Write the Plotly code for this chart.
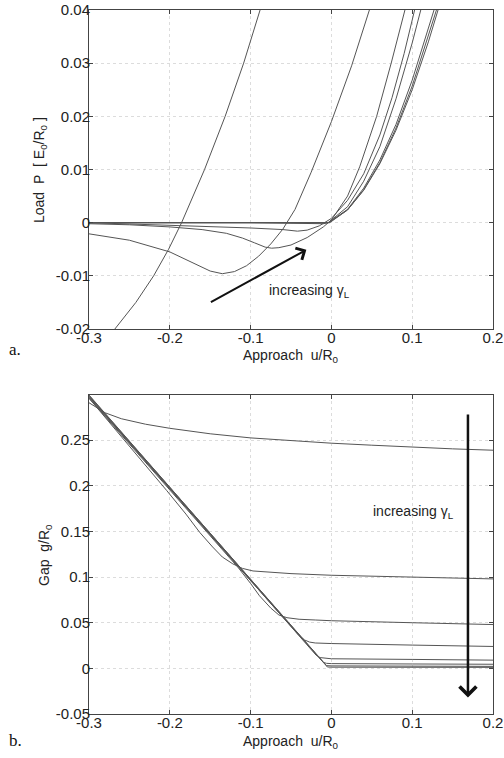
import plotly.graph_objects as go

# ---------------- data ----------------
# x tick values / labels shared by both panels
x_ticks = [-0.3, -0.2, -0.1, 0.0, 0.1, 0.2]
x_ticklabels = ["-0.3", "-0.2", "-0.1", "0", "0.1", "0.2"]

# Panel a: Load P [E0/R0] vs approach u/R0  (curves A..H, increasing gamma_L)
pa_u_A = [-0.29, -0.268, -0.242, -0.22, -0.2015, -0.1854, -0.157, -0.1315, -0.1086, -0.0877, -0.07]
pa_P_A = [-0.0235, -0.02, -0.015, -0.01, -0.005, 0.0, 0.01, 0.02, 0.03, 0.04, 0.049]

pa_u_B = [-0.3, -0.25, -0.2, -0.17, -0.15, -0.135, -0.12, -0.105, -0.09, -0.075, -0.06, -0.045, -0.025, 0.0, 0.025, 0.047, 0.06]
pa_P_B = [-0.0021, -0.0033, -0.0055, -0.0077, -0.0091, -0.0096, -0.0092, -0.0081, -0.0063, -0.004, -0.0012, 0.0025, 0.0095, 0.019, 0.0295, 0.04, 0.046]

pa_u_C = [-0.3, -0.25, -0.2, -0.16, -0.13, -0.11, -0.095, -0.082, -0.074, -0.065, -0.05, -0.03, -0.01, 0.0, 0.02, 0.035, 0.056, 0.074, 0.091, 0.1]
pa_P_C = [-0.0002, -0.0004, -0.0008, -0.0013, -0.002, -0.0029, -0.0038, -0.0046, -0.0048, -0.0047, -0.0042, -0.0028, -0.0008, 0.0005, 0.005, 0.0105, 0.02, 0.03, 0.04, 0.045]

pa_u_D = [-0.3, -0.22, -0.15, -0.1, -0.06, -0.042, -0.03, -0.015, 0.0, 0.02, 0.04, 0.06, 0.075, 0.09, 0.103, 0.11]
pa_P_D = [0.0, -0.0004, -0.0007, -0.001, -0.0013, -0.0016, -0.0014, -0.0006, 0.0008, 0.0042, 0.0092, 0.0165, 0.0235, 0.0318, 0.04, 0.0445]

pa_u_E = [-0.3, -0.1, -0.01, -0.004, 0.02, 0.04, 0.06, 0.08, 0.1, 0.111, 0.12]
pa_P_E = [0.0, 0.0, -0.0002, 0.0, 0.003, 0.0078, 0.0143, 0.0233, 0.0338, 0.04, 0.0455]

pa_u_F = [-0.3, -0.1, -0.008, -0.004, 0.02, 0.04, 0.06, 0.08, 0.1, 0.12, 0.127, 0.14]
pa_P_F = [0.0, 0.0, -0.0001, 0.0, 0.0025, 0.0065, 0.0118, 0.0185, 0.0268, 0.0363, 0.04, 0.047]

pa_u_G = [-0.3, -0.1, -0.006, -0.003, 0.02, 0.04, 0.06, 0.08, 0.1, 0.12, 0.13, 0.14]
pa_P_G = [0.0, 0.0, -0.0001, 0.0, 0.0024, 0.0062, 0.0113, 0.0178, 0.0257, 0.035, 0.04, 0.0452]

pa_u_H = [-0.3, -0.1, -0.005, -0.002, 0.02, 0.04, 0.06, 0.08, 0.1, 0.12, 0.132, 0.14]
pa_P_H = [0.0, 0.0, -0.0001, 0.0, 0.0024, 0.0061, 0.0111, 0.0174, 0.025, 0.034, 0.04, 0.0442]

pa_yticks = [-0.02, -0.01, 0.0, 0.01, 0.02, 0.03, 0.04]
pa_yticklabels = ["-0.02", "-0.01", "0", "0.01", "0.02", "0.03", "0.04"]

# Panel b: Gap g/R0 vs approach u/R0
pb_u_A = [-0.3, -0.29, -0.28, -0.26, -0.23, -0.2, -0.15, -0.1, -0.05, 0.0, 0.05, 0.1, 0.15, 0.2]
pb_g_A = [0.291, 0.285, 0.28, 0.2735, 0.2675, 0.263, 0.257, 0.2525, 0.2495, 0.2467, 0.2445, 0.2423, 0.2405, 0.239]

pb_u_B = [-0.3, -0.25, -0.204, -0.18, -0.163, -0.147, -0.135, -0.122, -0.11, -0.097, -0.075, -0.05, 0.0, 0.1, 0.2]
pb_g_B = [0.296, 0.244, 0.195, 0.169, 0.149, 0.133, 0.122, 0.1145, 0.1095, 0.1067, 0.105, 0.1038, 0.102, 0.1, 0.098]

pb_u_C = [-0.3, -0.2, -0.13, -0.115, -0.1, -0.089, -0.075, -0.065, -0.055, -0.04, -0.02, 0.0, 0.1, 0.2]
pb_g_C = [0.296, 0.196, 0.126, 0.11, 0.093, 0.0795, 0.066, 0.0585, 0.0555, 0.0538, 0.053, 0.0522, 0.05, 0.048]

pb_u_D = [-0.3, -0.1, -0.06, -0.048, -0.04, -0.033, -0.027, -0.02, 0.0, 0.1, 0.2]
pb_g_D = [0.297, 0.096, 0.0555, 0.0435, 0.036, 0.031, 0.0288, 0.0278, 0.0272, 0.0255, 0.024]

pb_u_E = [-0.3, -0.05, -0.025, -0.019, -0.014, -0.008, 0.0, 0.1, 0.2]
pb_g_E = [0.298, 0.0465, 0.021, 0.0145, 0.0118, 0.011, 0.0105, 0.0098, 0.009]

pb_u_F = [-0.3, -0.05, -0.015, -0.01, -0.006, 0.0, 0.1, 0.2]
pb_g_F = [0.298, 0.0465, 0.0105, 0.0065, 0.0055, 0.0052, 0.0048, 0.0045]

pb_u_G = [-0.3, -0.05, -0.01, -0.006, 0.0, 0.1, 0.2]
pb_g_G = [0.299, 0.047, 0.006, 0.003, 0.0027, 0.0024, 0.0022]

pb_u_H = [-0.3, -0.05, -0.008, -0.005, 0.0, 0.1, 0.2]
pb_g_H = [0.2995, 0.0465, 0.0035, 0.0015, 0.0013, 0.0012, 0.0011]

pb_yticks = [-0.05, 0.0, 0.05, 0.1, 0.15, 0.2, 0.25]
pb_yticklabels = ["-0.05", "0", "0.05", "0.1", "0.15", "0.2", "0.25"]

# ---------------- figure ----------------
W, H = 504, 758
LINE = dict(color="#555555", width=1)
SANS = "Liberation Sans, Arial, sans-serif"
SERIF = "Liberation Serif, DejaVu Serif, serif"


def px(xw):   # window x pixel -> paper fraction
    return xw / W


def py(yw):   # window y pixel -> paper fraction
    return 1 - yw / H


fig = go.Figure()
top = [(pa_u_A, pa_P_A), (pa_u_B, pa_P_B), (pa_u_C, pa_P_C), (pa_u_D, pa_P_D),
       (pa_u_E, pa_P_E), (pa_u_F, pa_P_F), (pa_u_G, pa_P_G), (pa_u_H, pa_P_H)]
bot = [(pb_u_A, pb_g_A), (pb_u_B, pb_g_B), (pb_u_C, pb_g_C), (pb_u_D, pb_g_D),
       (pb_u_E, pb_g_E), (pb_u_F, pb_g_F), (pb_u_G, pb_g_G), (pb_u_H, pb_g_H)]
for u, p in top:
    fig.add_trace(go.Scatter(x=u, y=p, mode="lines", line=LINE, xaxis="x", yaxis="y",
                             showlegend=False, hoverinfo="skip"))
for u, g in bot:
    fig.add_trace(go.Scatter(x=u, y=g, mode="lines", line=LINE, xaxis="x2", yaxis="y2",
                             showlegend=False, hoverinfo="skip"))

xdom = [px(89), px(493)]
ydom_top = [py(329), py(10)]
ydom_bot = [py(714), py(395)]

common = dict(showline=True, linecolor="#444444", linewidth=1, mirror="ticks",
              ticks="inside", ticklen=4, tickcolor="#444444", automargin=False,
              ticklabeloverflow="allow",
              showgrid=True, gridcolor="#dcdcdc", griddash="dot", gridwidth=1,
              zeroline=False, tickfont=dict(family=SANS, size=15, color="#222222"))

fig.update_layout(
    width=W, height=H,
    margin=dict(l=0, r=0, t=0, b=0, pad=0, autoexpand=False),
    paper_bgcolor="white", plot_bgcolor="white",
    showlegend=False,
    xaxis=dict(domain=xdom, anchor="y", range=[-0.3, 0.2], tickvals=x_ticks,
               ticktext=x_ticklabels, ticklabelstandoff=-5, **common),
    yaxis=dict(domain=ydom_top, anchor="x", range=[-0.02, 0.04], tickvals=pa_yticks,
               ticktext=pa_yticklabels, ticklabelstandoff=-5, **common),
    xaxis2=dict(domain=xdom, anchor="y2", range=[-0.3, 0.2], tickvals=x_ticks,
                ticktext=x_ticklabels, ticklabelstandoff=-5, **common),
    yaxis2=dict(domain=ydom_bot, anchor="x2", range=[-0.05, 0.2995], tickvals=pb_yticks,
                ticktext=pb_yticklabels, ticklabelstandoff=-5, **common),
)

tfont = dict(family=SANS, size=14, color="#222222")
ann = [
    # axis titles
    dict(text="Approach\u00a0 u/R<sub>0</sub>", x=px(291), y=py(356), xref="paper", yref="paper",
         showarrow=False, font=tfont, xanchor="center", yanchor="middle"),
    dict(text="Approach\u00a0 u/R<sub>0</sub>", x=px(291), y=py(742), xref="paper", yref="paper",
         showarrow=False, font=tfont, xanchor="center", yanchor="middle"),
    dict(text="Load\u00a0 P\u00a0 [ E<sub>0</sub>/R<sub>0</sub> ]", x=px(40), y=py(170),
         xref="paper", yref="paper", showarrow=False, font=tfont, textangle=-90,
         xanchor="center", yanchor="middle"),
    dict(text="Gap\u00a0 g/R<sub>0</sub>", x=px(45), y=py(555),
         xref="paper", yref="paper", showarrow=False, font=tfont, textangle=-90,
         xanchor="center", yanchor="middle"),
    # panel letters
    dict(text="a.", x=px(7), y=py(349), xref="paper", yref="paper", showarrow=False,
         font=dict(family=SERIF, size=17, color="#111111"), xanchor="left", yanchor="middle"),
    dict(text="b.", x=px(7), y=py(740), xref="paper", yref="paper", showarrow=False,
         font=dict(family=SERIF, size=17, color="#111111"), xanchor="left", yanchor="middle"),
    # arrows
    dict(text="", x=-0.031, y=-0.0051, ax=-0.151, ay=-0.0151, xref="x", yref="y",
         axref="x", ayref="y", showarrow=True, arrowhead=4, arrowsize=1.3, arrowwidth=2,
         arrowcolor="#111111"),
    dict(text="", x=0.169, y=-0.032, ax=0.169, ay=0.2797, xref="x2", yref="y2",
         axref="x2", ayref="y2", showarrow=True, arrowhead=4, arrowsize=1.3, arrowwidth=2.5,
         arrowcolor="#111111"),
    # labels
    dict(text="increasing γ<sub>L</sub>", x=-0.08, y=-0.0128, xref="x", yref="y",
         showarrow=False, font=tfont, xanchor="left", yanchor="middle"),
    dict(text="increasing γ<sub>L</sub>", x=0.0494, y=0.1714, xref="x2", yref="y2",
         showarrow=False, font=tfont, xanchor="left", yanchor="middle"),
]
fig.update_layout(annotations=ann)

# remove the default 8px page margin so the figure sits at the window's corner
fig.write_html("out.html", config={"displayModeBar": False},
               post_script="document.body.style.margin='0';")
